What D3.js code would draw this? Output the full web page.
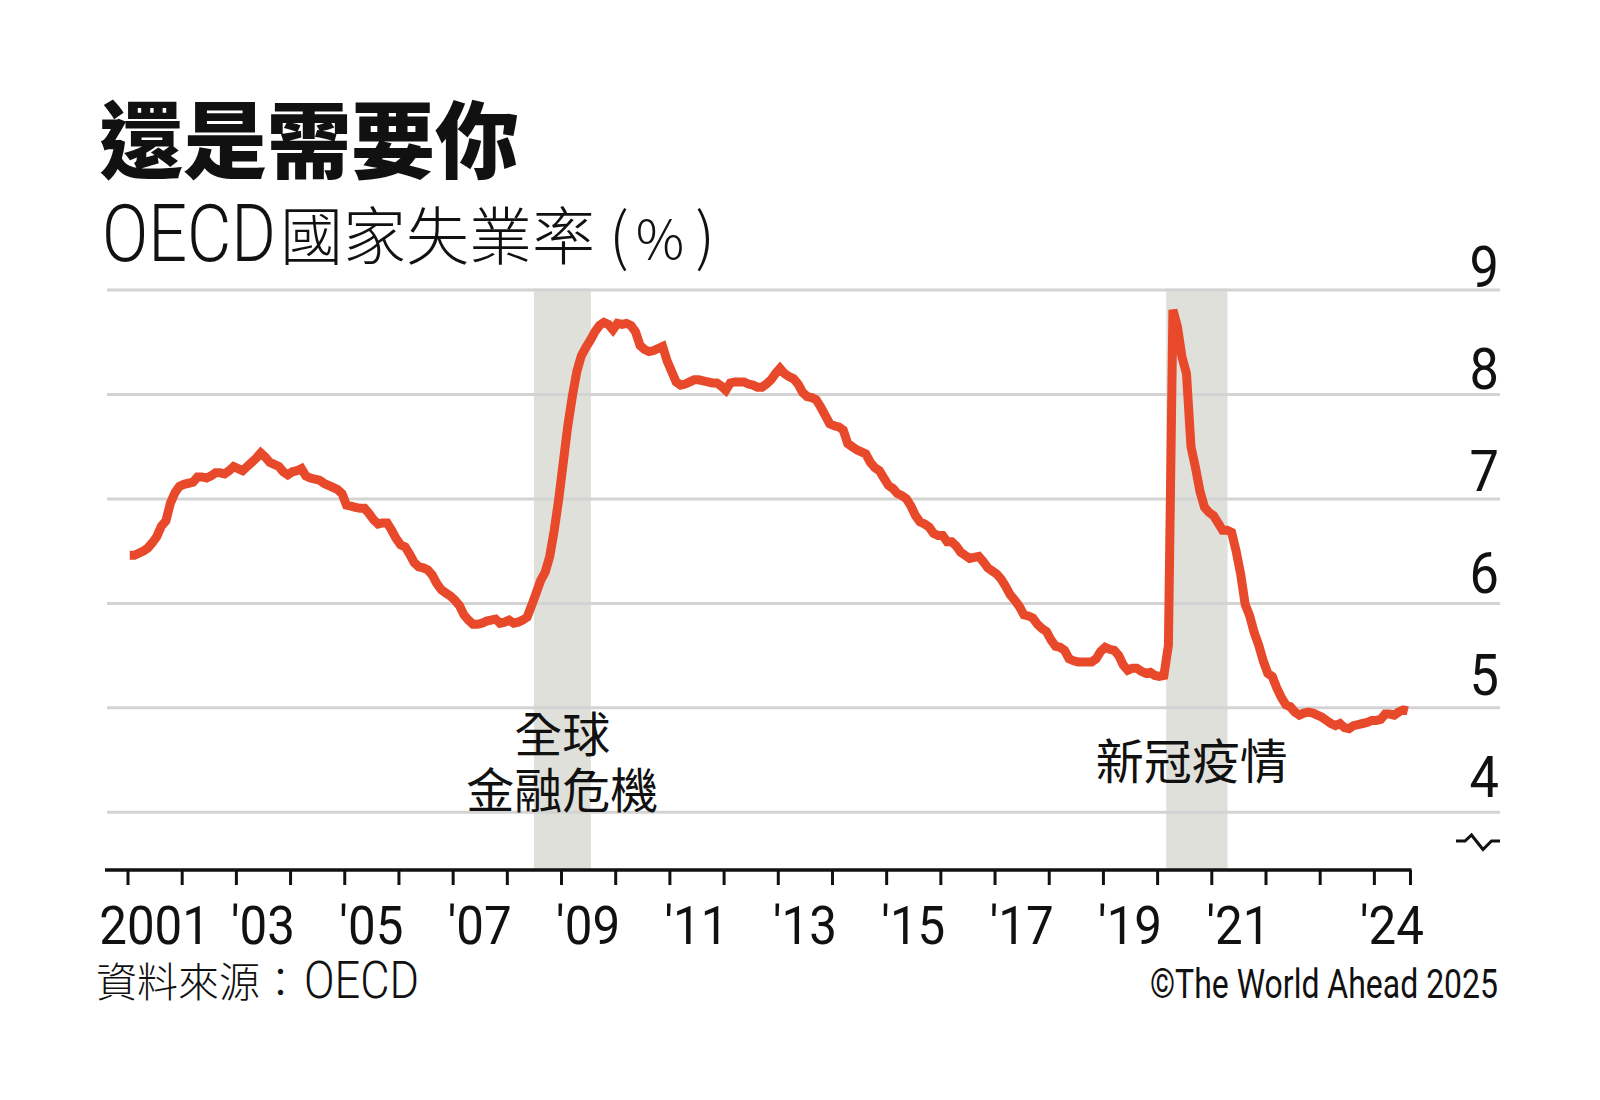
<!DOCTYPE html>
<html>
<head>
<meta charset="utf-8">
<script src="https://cdn.jsdelivr.net/npm/d3@7"></script>
<style>
  html, body { margin: 0; padding: 0; background: #fff; }
  svg { display: block; }
</style>
</head>
<body>
<svg id="chart" width="1600" height="1100"></svg>
<script>
// ---------------- DATA ----------------
const startYear = 2001;             // first month = Jan 2001, monthly series
const lastMonthEnd = 2024 + 8 / 12; // series ends Aug 2024

// OECD unemployment rate (%), monthly
const rates = [
  /*2001*/ 6.46, 6.46, 6.48, 6.50, 6.53, 6.58, 6.64, 6.74, 6.79, 6.96, 7.06, 7.12,
  /*2002*/ 7.14, 7.15, 7.16, 7.21, 7.21, 7.20, 7.22, 7.25, 7.25, 7.24, 7.27, 7.31,
  /*2003*/ 7.29, 7.27, 7.31, 7.35, 7.39, 7.44, 7.40, 7.35, 7.33, 7.31, 7.26, 7.23,
  /*2004*/ 7.26, 7.27, 7.29, 7.22, 7.20, 7.19, 7.18, 7.15, 7.13, 7.11, 7.09, 7.05,
  /*2005*/ 6.94, 6.93, 6.92, 6.91, 6.91, 6.86, 6.80, 6.76, 6.77, 6.77, 6.70, 6.62,
  /*2006*/ 6.56, 6.54, 6.47, 6.39, 6.35, 6.34, 6.32, 6.27, 6.19, 6.13, 6.10, 6.07,
  /*2007*/ 6.03, 5.98, 5.89, 5.84, 5.80, 5.80, 5.81, 5.83, 5.84, 5.85, 5.81, 5.82,
  /*2008*/ 5.84, 5.81, 5.82, 5.84, 5.87, 5.98, 6.10, 6.22, 6.30, 6.45, 6.70, 7.00,
  /*2009*/ 7.35, 7.70, 7.98, 8.22, 8.37, 8.45, 8.52, 8.60, 8.66, 8.69, 8.67, 8.62,
  /*2010*/ 8.68, 8.67, 8.68, 8.66, 8.60, 8.47, 8.43, 8.41, 8.42, 8.44, 8.46, 8.32,
  /*2011*/ 8.22, 8.12, 8.09, 8.10, 8.12, 8.14, 8.14, 8.13, 8.12, 8.11, 8.11, 8.08,
  /*2012*/ 8.04, 8.11, 8.12, 8.12, 8.12, 8.10, 8.09, 8.07, 8.07, 8.10, 8.14, 8.20,
  /*2013*/ 8.25, 8.20, 8.17, 8.15, 8.10, 8.02, 7.98, 7.97, 7.95, 7.88, 7.80, 7.72,
  /*2014*/ 7.70, 7.69, 7.66, 7.53, 7.50, 7.47, 7.45, 7.43, 7.35, 7.30, 7.27, 7.20,
  /*2015*/ 7.13, 7.10, 7.05, 7.03, 7.00, 6.93, 6.84, 6.78, 6.76, 6.73, 6.67, 6.65,
  /*2016*/ 6.65, 6.59, 6.59, 6.55, 6.49, 6.46, 6.43, 6.44, 6.45, 6.40, 6.34, 6.31,
  /*2017*/ 6.28, 6.23, 6.16, 6.08, 6.03, 5.97, 5.89, 5.88, 5.86, 5.80, 5.76, 5.73,
  /*2018*/ 5.65, 5.59, 5.58, 5.55, 5.47, 5.45, 5.44, 5.44, 5.44, 5.44, 5.47, 5.54,
  /*2019*/ 5.58, 5.56, 5.55, 5.50, 5.41, 5.36, 5.38, 5.38, 5.35, 5.33, 5.34, 5.31,
  /*2020*/ 5.30, 5.31, 5.60, 8.81, 8.65, 8.36, 8.20, 7.50, 7.30, 7.07, 6.92, 6.87,
  /*2021*/ 6.84, 6.77, 6.70, 6.70, 6.68, 6.50, 6.28, 5.99, 5.88, 5.72, 5.60, 5.45,
  /*2022*/ 5.33, 5.30, 5.19, 5.10, 5.03, 5.01, 4.96, 4.93, 4.95, 4.96, 4.95, 4.93,
  /*2023*/ 4.91, 4.88, 4.85, 4.83, 4.85, 4.81, 4.80, 4.83, 4.84, 4.85, 4.86, 4.88,
  /*2024*/ 4.88, 4.89, 4.94, 4.94, 4.93, 4.96, 4.98, 4.97
];

const gridValues   = [4, 5, 6, 7, 8, 9];
const yTickLabels  = ["4", "5", "6", "7", "8", "9"];
const tickYears    = d3.range(2001, 2025);
const labelYears   = [2001, 2003, 2005, 2007, 2009, 2011, 2013, 2015, 2017, 2019, 2021, 2024];
const labelTexts   = ["2001", "'03", "'05", "'07", "'09", "'11", "'13", "'15", "'17", "'19", "'21", "'24"];
const bandStarts   = [2008.5, 2020.167];
const bandEnds     = [2009.55, 2021.3];
const bandLabels   = [["全球", "金融危機"], ["新冠疫情"]];

const titleText     = "還是需要你";
const subtitleLatin = "OECD";
const subtitleCJK   = "國家失業率 ";
const subtitleUnit  = ["(", "%", ")"];
const sourceCJK     = "資料來源：";
const sourceLatin   = "OECD";
const creditText    = "©The World Ahead 2025";

// ---------------- DRAW ----------------
const CJK = "'Noto Sans CJK TC', 'Noto Sans CJK SC', sans-serif";
const LAT = "Roboto, 'Liberation Sans', Arial, sans-serif";
const svg = d3.select("#chart");
svg.append("rect").attr("width", 1600).attr("height", 1100).attr("fill", "#fff");

const x = d3.scaleLinear().domain([startYear, lastMonthEnd]).range([127.5, 1410]);
const y = d3.scaleLinear().domain([4, 9]).range([812.3, 290]);
const yLab = d3.scaleLinear().domain([4, 9]).range([797, 287]);
const axisY = 870;

// shaded bands
const bands = bandStarts.map((s, i) => ({ start: s, end: bandEnds[i], label: bandLabels[i] }));
svg.append("g").selectAll("rect").data(bands).join("rect")
  .attr("x", d => x(d.start))
  .attr("width", d => x(d.end) - x(d.start))
  .attr("y", y(9) - 1.5)
  .attr("height", d => axisY - y(9) + 1.5)
  .attr("fill", "#e0e0da");

// gridlines
svg.append("g").selectAll("line").data(gridValues).join("line")
  .attr("x1", 107).attr("x2", 1500)
  .attr("y1", d => y(d)).attr("y2", d => y(d))
  .attr("stroke", "#d3d3d3").attr("stroke-width", 3);

// y labels (right)
svg.append("g").selectAll("text").data(gridValues).join("text")
  .attr("transform", d => `translate(1499,${yLab(d)}) scale(0.92,1)`)
  .attr("text-anchor", "end")
  .attr("font-family", LAT).attr("font-size", 57).attr("fill", "#111")
  .text((d, i) => yTickLabels[i]);

// axis break symbol
svg.append("path")
  .attr("d", "M1456,841 H1465 L1471.5,835 L1483,849.5 L1491.5,841 H1500")
  .attr("fill", "none").attr("stroke", "#111").attr("stroke-width", 3);

// band annotations
const annG = svg.append("g").attr("font-family", CJK).attr("font-size", 48).attr("fill", "#111").attr("text-anchor", "middle");
const gfcText = annG.append("text").attr("x", (x(bands[0].start) + x(bands[0].end)) / 2).attr("y", 752);
gfcText.append("tspan").attr("x", (x(bands[0].start) + x(bands[0].end)) / 2).text(bands[0].label[0]);
gfcText.append("tspan").attr("x", (x(bands[0].start) + x(bands[0].end)) / 2).attr("dy", 56).text(bands[0].label[1]);
annG.append("text").attr("x", (x(bands[1].start) + x(bands[1].end)) / 2 - 5).attr("y", 779).text(bands[1].label[0]);

// x axis ticks
const axisG = svg.append("g").attr("transform", `translate(0,${axisY})`)
  .call(d3.axisBottom(x).tickValues([...tickYears, lastMonthEnd]).tickSize(15).tickFormat(""));
axisG.select(".domain").remove();
axisG.selectAll(".tick line").attr("stroke", "#111").attr("stroke-width", 3);
svg.append("line").attr("x1", 105).attr("x2", x(lastMonthEnd) + 1.5)
  .attr("y1", axisY).attr("y2", axisY).attr("stroke", "#111").attr("stroke-width", 3.5);

// x labels centered between tick and next tick / axis end
svg.append("g").selectAll("text").data(labelYears).join("text")
  .attr("transform", d => {
    const cx = (x(d) + x(Math.min(d + 1, lastMonthEnd))) / 2;
    return `translate(${cx},944) scale(0.93,1)`;
  })
  .attr("text-anchor", "middle")
  .attr("font-family", LAT).attr("font-size", 53).attr("fill", "#111")
  .text((d, i) => labelTexts[i]);

// data line
const line = d3.line()
  .x((d, i) => x(startYear + (i + 0.5) / 12))
  .y(d => y(d));
svg.append("path").datum(rates)
  .attr("d", line)
  .attr("fill", "none")
  .attr("stroke", "#e8492a")
  .attr("stroke-width", 9)
  .attr("stroke-linejoin", "miter");

// titles
svg.append("text").attr("x", 99).attr("y", 172)
  .attr("font-family", CJK).attr("font-weight", 900).attr("font-size", 84).attr("fill", "#111")
  .text(titleText);
svg.append("text").attr("x", 102).attr("y", 261)
  .attr("font-family", LAT).attr("font-weight", 300).attr("font-size", 80).attr("fill", "#111")
  .attr("textLength", 174).attr("lengthAdjust", "spacingAndGlyphs")
  .text(subtitleLatin);
const sub = svg.append("text").attr("x", 280).attr("y", 259)
  .attr("font-family", CJK).attr("font-weight", 300).attr("font-size", 63).attr("fill", "#111");
sub.append("tspan").text(subtitleCJK);
sub.append("tspan").text(subtitleUnit[0]);
sub.append("tspan").attr("dx", 7).attr("font-size", 54).text(subtitleUnit[1]);
sub.append("tspan").attr("dx", 11).text(subtitleUnit[2]);

// footer
svg.append("text").attr("x", 96).attr("y", 997)
  .attr("font-family", CJK).attr("font-weight", 300).attr("font-size", 41).attr("fill", "#111")
  .text(sourceCJK);
svg.append("text").attr("x", 304).attr("y", 998)
  .attr("font-family", LAT).attr("font-weight", 300).attr("font-size", 51).attr("fill", "#111")
  .attr("textLength", 115).attr("lengthAdjust", "spacingAndGlyphs")
  .text(sourceLatin);
svg.append("text").attr("x", 1498).attr("y", 998).attr("text-anchor", "end")
  .attr("font-family", LAT).attr("font-weight", 400).attr("font-size", 41).attr("fill", "#111")
  .attr("textLength", 348).attr("lengthAdjust", "spacingAndGlyphs")
  .text(creditText);
</script>
</body>
</html>
